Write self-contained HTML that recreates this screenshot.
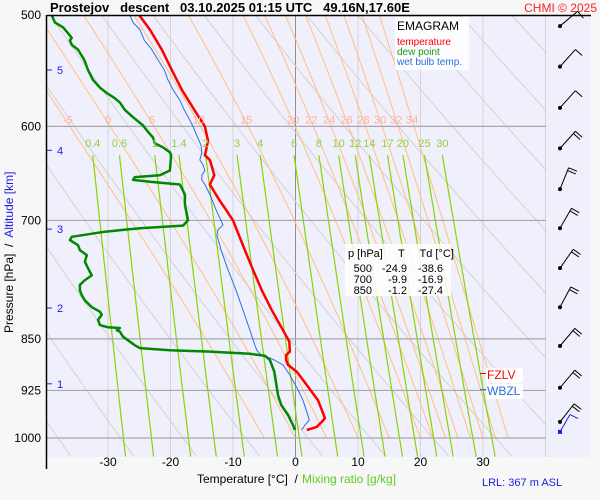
<!DOCTYPE html>
<html><head><meta charset="utf-8">
<style>
html,body{margin:0;padding:0;background:#f7f7f7;}
svg{display:block;font-family:"Liberation Sans",sans-serif;}
</style></head>
<body>
<svg id="chart" width="600" height="500" viewBox="0 0 600 500">
  <rect x="0" y="0" width="600" height="500" fill="#f7f7f7"/>
  <rect x="47" y="15" width="544" height="442" fill="#f0f0fc"/>
  <defs><clipPath id="clip"><rect x="47" y="15" width="499.5" height="442"/></clipPath></defs>
  <g id="grid" clip-path="url(#clip)"></g>
  <g id="series" clip-path="url(#clip)"></g>
  <g id="labels"></g>
  <line x1="47" y1="15.5" x2="591" y2="15.5" stroke="#000" stroke-width="1.5"/>
  <line x1="46.5" y1="15" x2="46.5" y2="469" stroke="#000" stroke-width="1.5"/>
  <text x="50" y="12" font-size="13" font-weight="bold" fill="#000" xml:space="preserve">Prostejov   descent   03.10.2025 01:15 UTC   49.16N,17.60E</text>
  <g id="winds"></g>
  <text x="597" y="12" font-size="12" fill="#ff2020" text-anchor="end">CHMI © 2025</text>
  <g>
    <rect x="395" y="17" width="74" height="53" fill="#fff" opacity="0.85"/>
    <text x="397" y="30" font-size="12" fill="#000">EMAGRAM</text>
    <text x="397" y="45" font-size="10" fill="#ff0000">temperature</text>
    <text x="397" y="55" font-size="10" fill="#1a9a1a">dew point</text>
    <text x="397" y="65" font-size="10" fill="#2a70e0">wet bulb temp.</text>
  </g>
  <g>
    <rect x="345" y="244" width="106" height="52" fill="#fff" opacity="0.85"/>
    <text x="348" y="257" font-size="11" xml:space="preserve">p [hPa]     T     Td [°C]</text>
    <g font-size="11" text-anchor="end">
      <text x="372" y="272">500</text>
      <text x="407" y="272">-24.9</text>
      <text x="443" y="272">-38.6</text>
      <text x="372" y="283">700</text>
      <text x="407" y="283">-9.9</text>
      <text x="443" y="283">-16.9</text>
      <text x="372" y="294">850</text>
      <text x="407" y="294">-1.2</text>
      <text x="443" y="294">-27.4</text>
    </g>
  </g>
  <g>
    <rect x="486" y="368" width="37" height="15" fill="#fff" opacity="0.9"/>
    <line x1="480" y1="373.5" x2="486" y2="373.5" stroke="#ff0000"/>
    <text x="487" y="379" font-size="12" fill="#ff0000">FZLV</text>
  </g>
  <g>
    <rect x="486" y="384" width="37" height="15" fill="#fff" opacity="0.9"/>
    <line x1="480" y1="389.5" x2="486" y2="389.5" stroke="#2a70e0"/>
    <text x="487" y="395" font-size="12" fill="#2a70e0">WBZL</text>
  </g>
  <text x="197" y="483" font-size="12" fill="#000" xml:space="preserve">Temperature [°C]  /</text>
  <text x="302" y="483" font-size="12" fill="#60cc20">Mixing ratio [g/kg]</text>
  <text x="482" y="486" font-size="11" fill="#2020e0">LRL: 367 m ASL</text>
  <text transform="translate(13,333) rotate(-90)" font-size="12" xml:space="preserve"><tspan fill="#000">Pressure [hPa]  /  </tspan><tspan fill="#2020e0">Altitude [km]</tspan></text>
</svg>
<script>
const NS='http://www.w3.org/2000/svg';
const pressTicks=[500,600,700,850,925,1000];
const tempTicks=[-30,-20,-10,0,10,20,30];
const tempGrid=[-30,-20,-10,0,10,20,30,40];
const altKm=[5,4,3,2,1];
const altP=[547,624,710,808,915];
const thetaW=[-5,0,5,10,15,20,22,24,26,28,30,32,34];
const mixRatios=[0.4,0.6,1,1.4,2,3,4,6,8,10,12,14,17,20,25,30];
const tempP=[500,512,529,547,565,584,600,614,624,629,634,650,660,677,688,700,735,759,785,811,838,854,868,873,880,887,897,917,940,955,968,974,982,987];
const tempT=[-25.0,-23.3,-21.4,-19.8,-18.2,-16.2,-14.5,-14.0,-14.3,-14.5,-13.7,-13.0,-13.7,-12.2,-11.1,-10.0,-8.1,-6.8,-5.4,-3.8,-2.0,-1.0,-0.9,-1.5,-1.5,-1.2,0.2,1.8,3.6,4.2,4.7,4.2,3.4,1.8];
const dewP=[500,506,510,515,519,521,525,529,538,547,556,563,568,573,577,584,591,599,604,611,617,621,626,629,645,650,652,655,657,660,671,682,700,706,709,713,719,723,729,735,741,749,757,766,772,778,785,791,798,807,813,817,824,831,834,835,838,840,847,859,863,866,868,871,874,880,897,932,947,963,979,987];
const dewT=[-39.0,-38.5,-37.2,-36.4,-35.8,-36.1,-35.8,-34.8,-33.8,-33.2,-32.4,-31.3,-30.2,-28.9,-28.1,-27.3,-26.0,-24.4,-23.8,-22.8,-22.5,-21.2,-20.1,-19.9,-20.1,-21.7,-25.7,-26.0,-23.3,-18.5,-17.7,-17.7,-17.2,-18.0,-24.9,-30.5,-35.8,-36.1,-34.8,-34.5,-33.4,-33.7,-33.2,-32.6,-33.7,-34.5,-34.5,-34.2,-33.7,-32.6,-31.3,-31.0,-31.6,-31.3,-30.0,-28.1,-28.6,-28.1,-27.6,-25.7,-24.9,-20.1,-13.7,-7.3,-4.9,-4.1,-3.4,-2.8,-2.3,-1.2,-0.4,-0.1];
const wbP=[500,506,512,521,529,538,547,556,565,575,584,594,600,609,619,626,634,639,645,650,655,660,671,688,705,711,717,729,735,759,785,811,838,859,866,874,877,880,887,902,924,940,958,971,979,987];
const wbT=[-26.5,-26.0,-24.9,-24.2,-23.0,-22.0,-21.0,-20.4,-19.6,-18.5,-17.8,-16.9,-16.4,-15.8,-15.1,-15.0,-15.3,-14.8,-14.5,-15.0,-15.0,-14.5,-13.7,-12.7,-11.6,-12.4,-12.6,-12.1,-11.9,-10.8,-9.5,-8.4,-7.3,-6.5,-6.2,-5.4,-4.1,-3.4,-2.0,-0.9,0.4,1.2,1.8,2.2,1.5,1.0];
const windP=[509,544,582,622,665,709,757,807,860,921,974];
const windAng=[50,42,42,42,22,30,35,28,40,40,38];

function xT(t){return 295.5+6.25*t;}
function yP(p){return 438-610*Math.log(1000/p);}
const grid=document.getElementById('grid');
const series=document.getElementById('series');
const labels=document.getElementById('labels');
function mk(tag,attrs,parent){const e=document.createElementNS(NS,tag);for(const k in attrs)e.setAttribute(k,attrs[k]);parent.appendChild(e);return e;}
function poly(pts){return pts.map(q=>q[0].toFixed(1)+','+q[1].toFixed(1)).join(' ');}

tempGrid.forEach(t=>{
  const l=mk('line',{x1:xT(t),y1:15,x2:xT(t),y2:457,stroke:t===0?'#909090':'#d4d4d4','stroke-width':1},grid);
  
  
});
for(let th=-58;th<=152;th+=10){
  const pts=[];
  for(let p=480;p<=1030;p+=10){pts.push([xT((th+273.15)*Math.pow(p/1000,0.2857)-273.15),yP(p)]);}
  const l=mk('polyline',{points:poly(pts),fill:'none',stroke:'#d2d2d2','stroke-width':1},grid);
  
  
}
function es(t){return 6.112*Math.exp(17.67*t/(t+243.5));}
function moist(tw){
  let T=tw+273.15,p=1000;const pts=[[xT(tw),yP(1000)]];let t600=null;
  const Rd=287.04,cp=1005.7,Lv=2.501e6,eps=0.622;
  while(p>480){
    const dp=-2;
    const rs=eps*es(T-273.15)/(p-es(T-273.15));
    const dTdp=(Rd*T+Lv*rs)/(cp+Lv*Lv*rs*eps/(Rd*T*T))/p;
    T+=dTdp*dp;p+=dp;
    if(p%10===0)pts.push([xT(T-273.15),yP(p)]);
    if(p===600)t600=T-273.15;
  }
  return {pts,t600};
}
thetaW.forEach(tw=>{
  const m=moist(tw);
  const l=mk('polyline',{points:poly(m.pts),fill:'none',stroke:'#ffc080','stroke-width':1},grid);
  
  
  const tx=mk('text',{x:xT(m.t600)-2,y:yP(600)-3,'font-size':11,fill:'#ffb0a0','text-anchor':'middle'},labels);
  tx.textContent=String(tw);
  
  
});
function tdFromW(w,p){const e=w*p/(622+w);const a=Math.log(e/6.112);return 243.5*a/(17.67-a);}
mixRatios.forEach(w=>{
  const pts=[];
  for(let p=629;p<=1035;p+=6){pts.push([xT(tdFromW(w,p)),yP(p)]);}
  const l=mk('polyline',{points:poly(pts),fill:'none',stroke:'#88d400','stroke-width':1.2},grid);
  
  
  const tx=mk('text',{x:xT(tdFromW(w,629)),y:yP(629)-8,'font-size':11,fill:'#90d040','text-anchor':'middle'},labels);
  tx.textContent=String(w);
  
  
});
pressTicks.forEach(p=>{
  if(p!==500){
    const l=mk('line',{x1:47,y1:yP(p),x2:546,y2:yP(p),stroke:'#a8a8a8','stroke-width':1.2},grid);
    
    
  }
  const tx=mk('text',{x:41,y:yP(p)+4,'font-size':12,fill:'#000','text-anchor':'end'},labels);
  tx.textContent=String(p);
  
  
});
tempTicks.forEach(t=>{
  const tx=mk('text',{x:xT(t),y:466,'font-size':12,fill:'#000','text-anchor':'middle'},labels);
  tx.textContent=String(t);
  
  
});
altKm.forEach((k,i)=>{
  const y=yP(altP[i]);
  const l=mk('line',{x1:47,y1:y,x2:52,y2:y,stroke:'#2020e0','stroke-width':1},labels);
  
  
  const tx=mk('text',{x:57,y:y+4,'font-size':11,fill:'#2020e0'},labels);
  tx.textContent=String(k);
  
  
});
function profile(P,T,color,w,name){
  const pts=P.map((p,i)=>[xT(T[i]),yP(p)]);
  const l=mk('polyline',{points:poly(pts),fill:'none',stroke:color,'stroke-width':w,'stroke-linejoin':'round'},series);
  
  
}
profile(wbP,wbT,'#2a70e0',1,'wet-bulb-line');
profile(dewP,dewT,'#008800',2.5,'dew-point-line');
profile(tempP,tempT,'#ff0000',2.5,'temperature-line');
const winds=document.getElementById('winds');
windP.forEach((p,i)=>{
  const y=yP(p),x=560,a=windAng[i]*Math.PI/180,L=23;
  const tx=x+L*Math.sin(a),ty=y-L*Math.cos(a);
  const g=mk('g',{},winds);
  
  
  mk('circle',{cx:x,cy:y,r:2,fill:'#000'},g);
  mk('line',{x1:x,y1:y,x2:tx,y2:ty,stroke:'#000','stroke-width':1},g);
  const bx=Math.cos(a)*9,by=Math.sin(a)*9;
  mk('line',{x1:tx,y1:ty,x2:tx+bx,y2:ty+by,stroke:'#000','stroke-width':1},g);
  if(i>=3){
    const sx=x+(L-3)*Math.sin(a),sy=y-(L-3)*Math.cos(a);
    mk('line',{x1:sx,y1:sy,x2:sx+bx,y2:sy+by,stroke:'#000','stroke-width':1},g);
  }
});
(function(){
  const y=yP(990),x=560,a=30*Math.PI/180,L=20;
  const tx=x+L*Math.sin(a),ty=y-L*Math.cos(a);
  const g=mk('g',{},winds);
  
  
  mk('rect',{x:x-2,y:y-2,width:4,height:4,fill:'#2020e0'},g);
  mk('line',{x1:x,y1:y,x2:tx,y2:ty,stroke:'#2020e0','stroke-width':1},g);
  mk('line',{x1:tx,y1:ty,x2:tx+8,y2:ty+4,stroke:'#2020e0','stroke-width':1},g);
})();
</script>
</body></html>
